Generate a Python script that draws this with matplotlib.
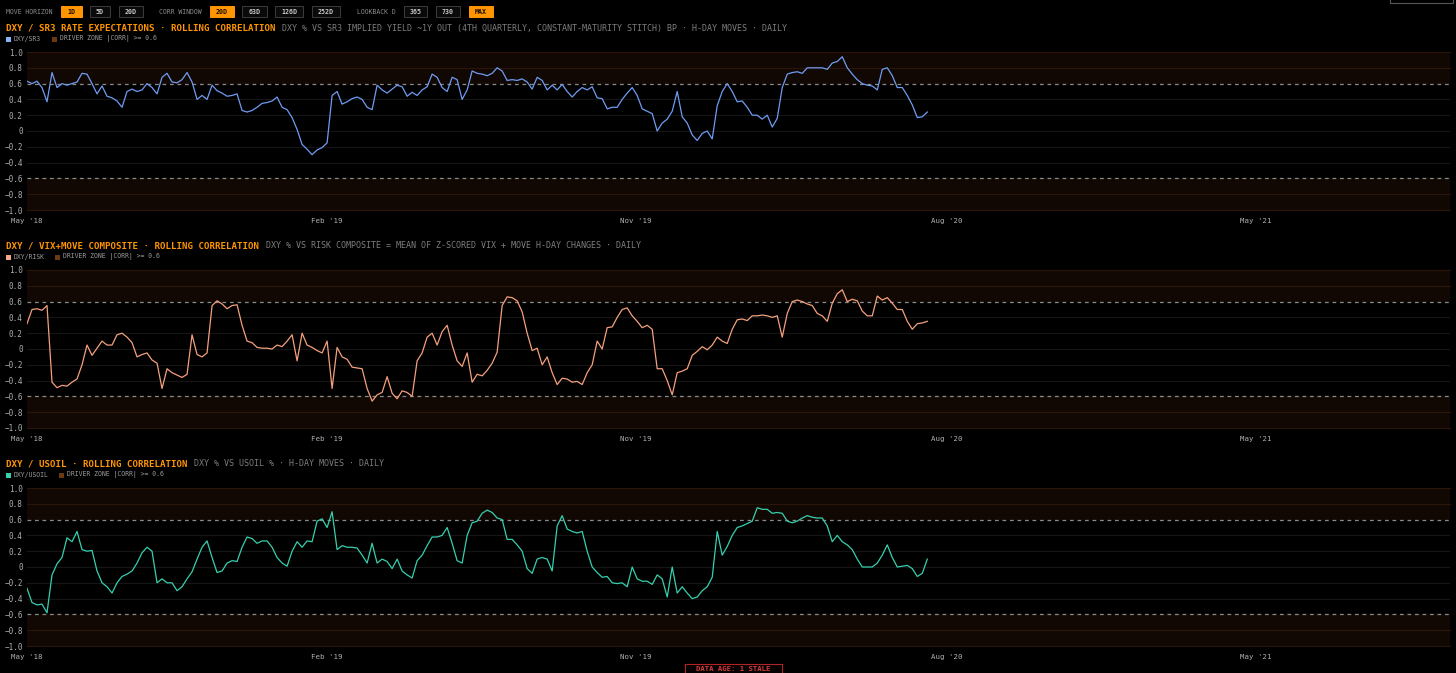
import matplotlib
matplotlib.use("Agg")
import matplotlib.pyplot as plt
import matplotlib.patches as mpatches
import pandas as pd

# rolling 20D correlations (one reading every ~5.6 days)
sr3_corr = [
    0.63, 0.60, 0.63, 0.55, 0.37, 0.74, 0.55, 0.60, 0.58, 0.60,
    0.62, 0.73, 0.72, 0.60, 0.47, 0.57, 0.44, 0.42, 0.38, 0.30,
    0.50, 0.53, 0.50, 0.52, 0.60, 0.55, 0.47, 0.68, 0.73, 0.62,
    0.61, 0.65, 0.74, 0.62, 0.40, 0.45, 0.40, 0.58, 0.51, 0.48,
    0.44, 0.45, 0.47, 0.26, 0.24, 0.26, 0.30, 0.35, 0.36, 0.38,
    0.43, 0.30, 0.27, 0.17, 0.02, -0.17, -0.23, -0.30, -0.24, -0.21,
    -0.15, 0.45, 0.50, 0.34, 0.37, 0.41, 0.43, 0.40, 0.30, 0.27,
    0.58, 0.52, 0.48, 0.53, 0.58, 0.56, 0.44, 0.49, 0.45, 0.52,
    0.56, 0.72, 0.68, 0.55, 0.50, 0.68, 0.65, 0.40, 0.52, 0.76,
    0.73, 0.72, 0.70, 0.73, 0.80, 0.76, 0.64, 0.65, 0.64, 0.66,
    0.62, 0.53, 0.68, 0.64, 0.52, 0.58, 0.52, 0.59, 0.50, 0.43,
    0.50, 0.55, 0.52, 0.56, 0.42, 0.41, 0.28, 0.30, 0.30, 0.40,
    0.48, 0.55, 0.45, 0.28, 0.25, 0.22, 0.00, 0.10, 0.15, 0.25,
    0.50, 0.18, 0.10, -0.05, -0.12, -0.03, 0.00, -0.10, 0.32, 0.50,
    0.60, 0.50, 0.37, 0.38, 0.30, 0.20, 0.20, 0.15, 0.20, 0.05,
    0.16, 0.55, 0.72, 0.74, 0.75, 0.73, 0.80, 0.80, 0.80, 0.80,
    0.78, 0.86, 0.88, 0.94, 0.80, 0.72, 0.65, 0.60, 0.58, 0.57,
    0.52, 0.78, 0.80, 0.70, 0.55, 0.55, 0.45, 0.33, 0.17, 0.18,
    0.24,
]

risk_corr = [
    0.32, 0.50, 0.51, 0.49, 0.55, -0.42, -0.49, -0.46, -0.47, -0.42,
    -0.38, -0.20, 0.05, -0.08, 0.01, 0.10, 0.05, 0.05, 0.18, 0.20,
    0.15, 0.08, -0.10, -0.07, -0.05, -0.14, -0.18, -0.50, -0.25, -0.30,
    -0.33, -0.36, -0.32, 0.18, -0.07, -0.10, -0.05, 0.55, 0.61, 0.57,
    0.51, 0.55, 0.56, 0.30, 0.10, 0.08, 0.02, 0.01, 0.01, 0.00,
    0.05, 0.03, 0.10, 0.18, -0.15, 0.20, 0.05, 0.02, -0.02, -0.05,
    0.10, -0.50, 0.02, -0.10, -0.13, -0.23, -0.24, -0.25, -0.50, -0.66,
    -0.58, -0.55, -0.35, -0.56, -0.63, -0.53, -0.55, -0.60, -0.15, -0.05,
    0.15, 0.20, 0.05, 0.22, 0.30, 0.05, -0.15, -0.22, -0.05, -0.42,
    -0.32, -0.34, -0.27, -0.18, -0.04, 0.55, 0.66, 0.65, 0.61, 0.47,
    0.20, -0.02, 0.01, -0.20, -0.10, -0.30, -0.45, -0.37, -0.38, -0.42,
    -0.41, -0.45, -0.30, -0.20, 0.10, 0.00, 0.27, 0.28, 0.40, 0.50,
    0.52, 0.42, 0.35, 0.27, 0.30, 0.25, -0.25, -0.25, -0.40, -0.58,
    -0.30, -0.28, -0.25, -0.08, -0.03, 0.03, -0.01, 0.05, 0.15, 0.10,
    0.07, 0.25, 0.37, 0.38, 0.36, 0.42, 0.42, 0.43, 0.42, 0.40,
    0.42, 0.15, 0.45, 0.60, 0.62, 0.60, 0.57, 0.55, 0.45, 0.42,
    0.35, 0.58, 0.70, 0.75, 0.60, 0.63, 0.61, 0.48, 0.42, 0.42,
    0.67, 0.62, 0.65, 0.58, 0.50, 0.50, 0.35, 0.25, 0.32, 0.33,
    0.35,
]

usoil_corr = [
    -0.27, -0.45, -0.48, -0.47, -0.58, -0.10, 0.04, 0.12, 0.37, 0.32,
    0.45, 0.22, 0.20, 0.21, -0.05, -0.20, -0.25, -0.33, -0.20, -0.12,
    -0.09, -0.05, 0.05, 0.18, 0.25, 0.20, -0.20, -0.15, -0.20, -0.20,
    -0.30, -0.25, -0.15, -0.06, 0.10, 0.25, 0.33, 0.12, -0.07, -0.05,
    0.05, 0.08, 0.07, 0.25, 0.38, 0.36, 0.30, 0.33, 0.33, 0.25,
    0.12, 0.05, 0.01, 0.20, 0.32, 0.25, 0.33, 0.32, 0.58, 0.61,
    0.50, 0.70, 0.22, 0.27, 0.25, 0.25, 0.24, 0.15, 0.05, 0.30,
    0.05, 0.10, 0.07, -0.02, 0.10, -0.05, -0.10, -0.14, 0.08, 0.15,
    0.27, 0.38, 0.38, 0.40, 0.50, 0.30, 0.08, 0.05, 0.40, 0.56,
    0.58, 0.68, 0.72, 0.69, 0.62, 0.60, 0.35, 0.35, 0.28, 0.20,
    -0.02, -0.08, 0.10, 0.12, 0.10, -0.05, 0.52, 0.65, 0.48, 0.45,
    0.43, 0.45, 0.20, 0.00, -0.07, -0.13, -0.12, -0.20, -0.21, -0.20,
    -0.25, 0.00, -0.15, -0.18, -0.18, -0.22, -0.10, -0.15, -0.38, 0.00,
    -0.33, -0.25, -0.33, -0.40, -0.38, -0.30, -0.25, -0.13, 0.45, 0.15,
    0.26, 0.40, 0.50, 0.52, 0.55, 0.58, 0.75, 0.73, 0.73, 0.68,
    0.69, 0.68, 0.58, 0.56, 0.58, 0.62, 0.65, 0.63, 0.62, 0.62,
    0.52, 0.32, 0.40, 0.32, 0.28, 0.22, 0.10, 0.00, 0.00, 0.00,
    0.05, 0.15, 0.28, 0.12, 0.00, 0.01, 0.02, -0.02, -0.12, -0.08,
    0.10,
]

start_date = "2018-05-13"
end_date = "2020-07-15"
axis_end = "2021-10-19"
tick_dates = ["2018-05-13", "2019-02-01", "2019-11-01", "2020-08-01", "2021-05-01"]
tick_labels = ["May '18", "Feb '19", "Nov '19", "Aug '20", "May '21"]
y_ticks = [1.0, 0.8, 0.6, 0.4, 0.2, 0.0, -0.2, -0.4, -0.6, -0.8, -1.0]
y_labels = ["1.0", "0.8", "0.6", "0.4", "0.2", "0",
            "\u22120.2", "\u22120.4", "\u22120.6", "\u22120.8", "\u22121.0"]

panels = [
    dict(values=sr3_corr, color="#6f9cf2", swatch="#8ab4f8", name="DXY/SR3",
         title="DXY / SR3 RATE EXPECTATIONS \u00b7 ROLLING CORRELATION",
         sub="DXY % VS SR3 IMPLIED YIELD ~1Y OUT (4TH QUARTERLY, CONSTANT-MATURITY STITCH) BP \u00b7 H-DAY MOVES \u00b7 DAILY",
         top=52),
    dict(values=risk_corr, color="#f5a07c", swatch="#f6a98a", name="DXY/RISK",
         title="DXY / VIX+MOVE COMPOSITE \u00b7 ROLLING CORRELATION",
         sub="DXY % VS RISK COMPOSITE = MEAN OF Z-SCORED VIX + MOVE H-DAY CHANGES \u00b7 DAILY",
         top=270),
    dict(values=usoil_corr, color="#35d0ae", swatch="#35d0ae", name="DXY/USOIL",
         title="DXY / USOIL \u00b7 ROLLING CORRELATION",
         sub="DXY % VS USOIL % \u00b7 H-DAY MOVES \u00b7 DAILY",
         top=488),
]

W, H = 1456, 673
BG = "#000000"
ORANGE = "#ff9500"
BAND = "#120803"
BAND_GRID = "#2a1608"
GRID = "#151515"
MONO = "DejaVu Sans Mono"

fig = plt.figure(figsize=(W / 100, H / 100), dpi=100, facecolor=BG)

left_px, right_px, plot_h = 27, 1450, 158
dates = pd.date_range(start_date, end_date, periods=len(sr3_corr))

for p in panels:
    ax = fig.add_axes([left_px / W, 1 - (p["top"] + plot_h) / H,
                       (right_px - left_px) / W, plot_h / H])
    ax.set_facecolor(BG)
    ax.axhspan(0.6, 1.0, color=BAND, lw=0, zorder=0)
    ax.axhspan(-1.0, -0.6, color=BAND, lw=0, zorder=0)
    for yv in y_ticks:
        if abs(yv) == 0.6:
            ax.axhline(yv, color="#8a8a8a", lw=0.9, ls=(0, (3, 3)), zorder=1)
        elif abs(yv) > 0.6:
            ax.axhline(yv, color=BAND_GRID, lw=0.8, zorder=1, clip_on=False)
        else:
            ax.axhline(yv, color=GRID, lw=0.8, zorder=1)
    ax.plot(dates, p["values"], color=p["color"], lw=0.9, zorder=3)
    ax.set_ylim(-1.0, 1.0)
    ax.set_xlim(pd.Timestamp(start_date), pd.Timestamp(axis_end))
    ax.set_yticks(y_ticks)
    ax.set_yticklabels(y_labels)
    ax.set_xticks([pd.Timestamp(d) for d in tick_dates])
    ax.set_xticklabels(tick_labels)
    ax.tick_params(axis="y", length=0, pad=3, labelsize=5.5, labelcolor="#b0b0b0")
    ax.tick_params(axis="x", length=0, pad=6, labelsize=5.3, labelcolor="#b0b0b0")
    for lab in ax.get_xticklabels() + ax.get_yticklabels():
        lab.set_fontfamily(MONO)
    for s in ax.spines.values():
        s.set_visible(False)

# overlay in pixel coordinates for header text, legends and buttons
ov = fig.add_axes([0, 0, 1, 1])
ov.set_xlim(0, W)
ov.set_ylim(H, 0)
ov.axis("off")
ov.patch.set_alpha(0)

char_title = 0.602 * 6.6 * 100 / 72
char_leg = 0.602 * 4.7 * 100 / 72
for p in panels:
    ty = p["top"] - 24
    ov.text(6, ty, p["title"], color=ORANGE, fontsize=6.6, fontweight="bold",
            family=MONO, va="center", ha="left")
    ov.text(6 + len(p["title"]) * char_title + 6, ty, p["sub"], color="#7d7d7d",
            fontsize=6.05, family=MONO, va="center", ha="left")
    ly = p["top"] - 13
    ov.add_patch(mpatches.Rectangle((6, ly - 2.5), 5, 5, color=p["swatch"], lw=0))
    ov.text(14, ly, p["name"], color="#9a9a9a", fontsize=4.7, family=MONO, va="center")
    x2 = 14 + len(p["name"]) * char_leg + 10
    ov.add_patch(mpatches.Rectangle((x2, ly - 2.5), 5, 5, color="#6b3a12", lw=0))
    ov.text(x2 + 8, ly, "DRIVER ZONE |CORR| >= 0.6", color="#9a9a9a", fontsize=4.7,
            family=MONO, va="center")

# control row
groups = [("MOVE HORIZON", 6), ("CORR WINDOW", 159), ("LOOKBACK D", 357)]
for label, gx in groups:
    ov.text(gx, 11.5, label, color="#8a8a8a", fontsize=4.7, family=MONO, va="center")

buttons = [("1D", 61, 82, True), ("5D", 90, 110, False), ("20D", 119, 143, False),
           ("20D", 210, 234, True), ("63D", 242, 267, False), ("126D", 275, 303, False),
           ("252D", 312, 340, False), ("365", 404, 427, False), ("730", 436, 460, False),
           ("MAX", 469, 493, True)]
for label, x0, x1, active in buttons:
    ov.add_patch(mpatches.Rectangle((x0, 6), x1 - x0, 11,
                                    facecolor=ORANGE if active else "#0a0a0a",
                                    edgecolor=ORANGE if active else "#3c3c3c", lw=0.7))
    ov.text((x0 + x1) / 2, 11.8, label, color="#1a0d00" if active else "#c8c8c8",
            fontsize=4.8, fontweight="bold", family=MONO, ha="center", va="center")

# top-right box (cut off) and data-age badge at the bottom
ov.add_patch(mpatches.Rectangle((1390, -10), 63, 12.7, facecolor="none",
                                edgecolor="#555555", lw=0.8, clip_on=False))
ov.add_patch(mpatches.Rectangle((685, 664), 97, 20, facecolor="#050000",
                                edgecolor="#b02424", lw=0.8, clip_on=False))
ov.text(733.5, 668.6, "DATA AGE: 1 STALE", color="#d83a3a", fontsize=5.2,
        fontweight="bold", family=MONO, ha="center", va="center", clip_on=False)

fig.savefig("out.png", dpi=100, facecolor=BG)
